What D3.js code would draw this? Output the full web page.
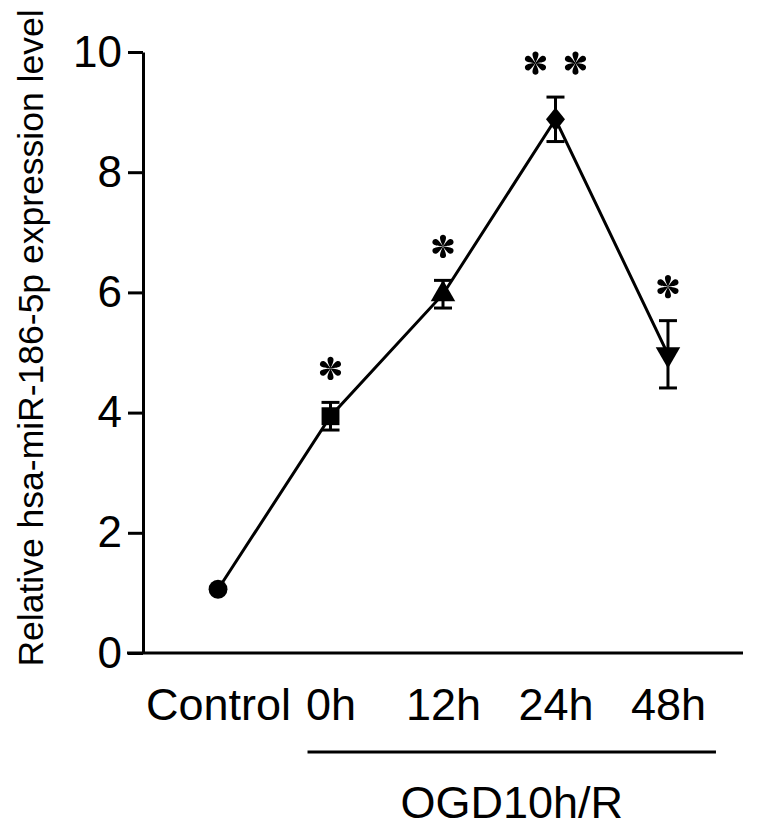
<!DOCTYPE html>
<html>
<head>
<meta charset="utf-8">
<script src="https://cdn.jsdelivr.net/npm/d3@7"></script>
<style>
    body { margin: 0; background: #fff; }
    svg text { font-family: "Liberation Sans", Arial, sans-serif; fill: #000; }
</style>
</head>
<body>
<svg id="chart" width="783" height="835"></svg>
<script>
// values
const categories = ['Control', '0h', '12h', '24h', '48h'];
const means = [1.06, 3.94, 5.97, 8.88, 4.97];
const errors = [0, 0.23, 0.23, 0.37, 0.56];
const stars = [0, 1, 1, 2, 1];
const yTicks = [0, 2, 4, 6, 8, 10];
const markers = [d3.symbolCircle, d3.symbolSquare, d3.symbolTriangle, d3.symbolDiamond, d3.symbolTriangle];

const svg = d3.select('#chart');
const plot = {left: 143, right: 743, top: 52, bottom: 653};

const x = d3.scalePoint()
    .domain(categories)
    .range([plot.left, plot.right])
    .padding(0.667);

const y = d3.scaleLinear()
    .domain([0, 10])
    .range([plot.bottom, plot.top]);

// y axis
const yAxis = svg.append('g')
    .attr('transform', `translate(${plot.left},0)`)
    .call(d3.axisLeft(y).tickValues(yTicks).tickSize(15).tickSizeOuter(0).tickPadding(6));
yAxis.selectAll('path, line').attr('stroke', '#000').attr('stroke-width', 3);
yAxis.selectAll('text').attr('font-size', 44).attr('font-family', '"Liberation Sans", Arial, sans-serif');

// x axis: plain baseline, category labels below
const xAxis = svg.append('g')
    .attr('transform', `translate(0,${plot.bottom})`)
    .call(d3.axisBottom(x).tickSize(0).tickPadding(35));
xAxis.select('.domain').remove();
xAxis.selectAll('text').attr('font-size', 45).attr('font-family', '"Liberation Sans", Arial, sans-serif');

svg.append('line')
    .attr('x1', plot.left - 16).attr('x2', plot.right)
    .attr('y1', plot.bottom).attr('y2', plot.bottom)
    .attr('stroke', '#000').attr('stroke-width', 3);

// y title
svg.append('text')
    .attr('transform', `translate(43,338) rotate(-90)`)
    .attr('text-anchor', 'middle')
    .attr('font-size', 35.5)
    .text('Relative hsa-miR-186-5p expression level');

// OGD bracket
const bx1 = x('0h') - 23, bx2 = x('48h') + 48;
svg.append('line')
    .attr('x1', bx1).attr('x2', bx2)
    .attr('y1', 752).attr('y2', 752)
    .attr('stroke', '#000').attr('stroke-width', 3);
svg.append('text')
    .attr('x', (bx1 + bx2) / 2).attr('y', 818)
    .attr('text-anchor', 'middle')
    .attr('font-size', 45)
    .text('OGD10h/R');

const data = categories.map((c, i) => ({c, m: means[i], e: errors[i], s: stars[i], sym: markers[i], i}));

// connecting line
svg.append('path')
    .datum(data)
    .attr('fill', 'none')
    .attr('stroke', '#000')
    .attr('stroke-width', 3)
    .attr('d', d3.line().x(d => x(d.c)).y(d => y(d.m)));

// error bars
const capW = 9;
const eb = svg.append('g').attr('stroke', '#000').attr('stroke-width', 3);
data.filter(d => d.e > 0).forEach(d => {
    const cx = x(d.c);
    eb.append('line').attr('x1', cx).attr('x2', cx).attr('y1', y(d.m + d.e)).attr('y2', y(d.m - d.e));
    eb.append('line').attr('x1', cx - capW).attr('x2', cx + capW).attr('y1', y(d.m + d.e)).attr('y2', y(d.m + d.e));
    eb.append('line').attr('x1', cx - capW).attr('x2', cx + capW).attr('y1', y(d.m - d.e)).attr('y2', y(d.m - d.e));
});

// markers
const symSize = [280, 320, 260, 200, 260];
svg.append('g').selectAll('path')
    .data(data)
    .join('path')
    .attr('transform', d => {
        const rot = d.i === 4 ? ' rotate(180)' : '';
        const sy = d.i === 3 ? ' scale(1.25,0.9)' : '';
        return `translate(${x(d.c)},${y(d.m)})${rot}${sy}`;
    })
    .attr('d', d => d3.symbol().type(d.sym).size(symSize[d.i])())
    .attr('fill', '#000');

// significance asterisks (six teardrop petals)
const petal = 'M0,0 C-0.8,-2 -3.2,-6.5 -3,-9 C-2.8,-12.6 2.8,-12.6 3,-9 C3.2,-6.5 0.8,-2 0,0Z';
function asterisk(g) {
    d3.range(6).forEach(k => {
        g.append('path').attr('d', petal).attr('transform', `rotate(${k * 60})`).attr('fill', '#000');
    });
}
data.filter(d => d.s > 0).forEach(d => {
    const sy = y(d.m + d.e) - 34;
    const offs = d.s === 1 ? [0] : [-20, 20];
    offs.forEach(o => {
        const g = svg.append('g').attr('transform', `translate(${x(d.c) + o},${sy})`);
        asterisk(g);
    });
});
</script>
</body>
</html>
